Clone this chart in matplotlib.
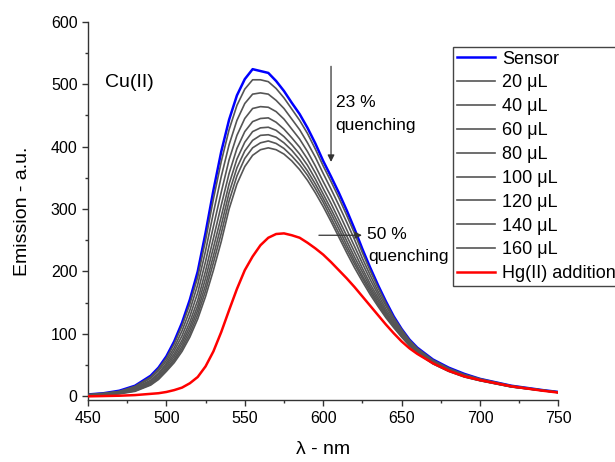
import matplotlib
matplotlib.use("Agg")
import matplotlib.pyplot as plt
from matplotlib.ticker import MultipleLocator

plt.rcParams['font.family'] = ['Liberation Sans', 'DejaVu Sans']

# wavelength grid (nm)
wl = [450, 460, 470, 480, 490, 495, 500, 505, 510, 515, 520, 525, 530, 535, 540,
      545, 550, 555, 560, 565, 570, 575, 580, 585, 590, 595, 600, 605, 610, 615,
      620, 625, 630, 635, 640, 645, 650, 655, 660, 670, 680, 690, 700, 720, 740, 750]

sensor = [3, 5, 9, 17, 33, 46, 64, 88, 118, 155, 200, 262, 330, 392, 443,
          482, 508, 524, 521, 518, 505, 489, 470, 452, 430, 405, 377, 352, 326, 298,
          268, 236, 206, 178, 152, 128, 108, 91, 78, 59, 46, 36, 28, 17, 10, 7]

cu_20 = [3, 5, 8, 16, 31, 44, 61, 84, 113, 148, 191, 250, 316, 376, 427,
         466, 492, 507, 507, 504, 493, 478, 460, 442, 421, 396, 369, 344, 318, 290,
         261, 230, 201, 174, 149, 126, 107, 90, 77, 58, 45, 35, 28, 17, 10, 7]
cu_40 = [2.4, 4.2, 7.6, 14.5, 29, 41, 57, 78, 105, 138, 179, 233, 294, 352, 403,
         442, 469, 484, 486, 484, 474, 461, 444, 427, 406, 383, 357, 332, 306, 279,
         251, 221, 194, 168, 145, 123, 104, 88, 75.5, 57, 44, 34.6, 27.2, 16.4, 9.7, 6.7]
cu_60 = [2.1, 3.7, 6.8, 13, 26, 37, 53, 73, 97, 128, 166, 216, 272, 327, 379,
         418, 445, 461, 464, 463, 456, 444, 428, 412, 392, 369, 344, 320, 294, 267,
         240, 213, 187, 163, 140, 120, 102, 86.5, 74, 56, 43, 33.8, 26.7, 16.1, 9.6, 6.6]
cu_80 = [1.8, 3.2, 6, 11.6, 24, 35, 50, 68, 90, 119, 154, 201, 253, 306, 357,
         397, 424, 440, 445, 446, 439, 428, 414, 399, 380, 358, 333, 309, 283, 257,
         231, 205, 180, 158, 136, 117, 100, 85, 72.6, 54.8, 42.4, 33, 26.2, 15.8, 9.4, 6.4]
cu_100 = [1.6, 2.8, 5.4, 10.5, 22, 32, 47, 64, 85, 112, 145, 189, 238, 288, 340,
          380, 407, 424, 430, 431, 426, 416, 403, 388, 370, 348, 324, 300, 275, 249,
          223, 199, 175, 154, 133, 115, 99, 84, 71.5, 54, 41.7, 32.4, 25.8, 15.6, 9.3, 6.3]
cu_120 = [1.4, 2.5, 4.9, 9.6, 21, 30, 44, 60, 80, 106, 138, 178, 225, 274, 326,
          366, 393, 410, 418, 419, 415, 406, 394, 379, 361, 340, 317, 293, 268, 242,
          217, 193, 171, 150, 131, 113, 97, 83, 70.6, 53.3, 41.1, 31.9, 25.5, 15.4, 9.2, 6.2]
cu_140 = [1.2, 2.3, 4.5, 8.8, 19, 29, 42, 57, 76, 100, 131, 169, 214, 261, 313,
          353, 381, 398, 406, 409, 405, 397, 385, 371, 354, 333, 311, 286, 261, 236,
          212, 189, 167, 147, 128, 112, 96, 82, 69.8, 52.6, 40.5, 31.5, 25.3, 15.2, 9.1, 6.1]
cu_160 = [1, 2, 4, 8, 18, 27, 40, 54, 72, 95, 124, 160, 202, 248, 300,
          340, 368, 386, 395, 398, 395, 388, 377, 363, 346, 326, 304, 280, 255, 230,
          206, 184, 163, 144, 126, 110, 95, 81, 69, 52, 40, 31, 25, 15, 9, 6]

hg = [0, 0.5, 1, 2, 4, 5, 7, 10, 14, 21, 31, 48, 72, 103, 138,
      172, 202, 224, 242, 254, 260, 261, 258, 254, 246, 237, 227, 215, 202, 189,
      175, 160, 145, 130, 115, 101, 88, 77, 68, 53, 41, 32, 26, 16, 9, 6]

gray_series = [cu_20, cu_40, cu_60, cu_80, cu_100, cu_120, cu_140, cu_160]
gray_labels = ['20 \u03bcL', '40 \u03bcL', '60 \u03bcL', '80 \u03bcL',
               '100 \u03bcL', '120 \u03bcL', '140 \u03bcL', '160 \u03bcL']

fig = plt.figure(figsize=(6.15, 4.62), dpi=100)
ax = fig.add_axes([0.143, 0.134, 0.765, 0.819])

ax.plot(wl, sensor, color='#0000ff', lw=1.8, label='Sensor', zorder=2)
for ys, lab in zip(gray_series, gray_labels):
    ax.plot(wl, ys, color='#555555', lw=1.2, label=lab, zorder=3)
ax.plot(wl, hg, color='#ff0000', lw=1.8, label='Hg(II) addition', zorder=4)

ax.set_xlim(450, 750)
ax.set_ylim(-6, 600)
ax.xaxis.set_major_locator(MultipleLocator(50))
ax.xaxis.set_minor_locator(MultipleLocator(25))
ax.yaxis.set_major_locator(MultipleLocator(100))
ax.yaxis.set_minor_locator(MultipleLocator(50))
ax.tick_params(which='major', direction='out', length=4, width=1, labelsize=11.5, color='#333333')
ax.tick_params(which='minor', direction='out', length=2.5, width=1, color='#333333')
for s in ['top', 'right']:
    ax.spines[s].set_visible(False)
for s in ['left', 'bottom']:
    ax.spines[s].set_color('#333333')
    ax.spines[s].set_linewidth(1)

ax.set_xlabel('\u03bb - nm', fontsize=14, labelpad=11)
ax.set_ylabel('Emission - a.u.', fontsize=14, labelpad=14)

ax.text(461, 503, 'Cu(II)', fontsize=14, va='center', ha='left')

# quenching arrows
ax.annotate('', xy=(605, 371), xytext=(605, 533),
            arrowprops=dict(arrowstyle='-|>', color='#333333', lw=0.9, mutation_scale=10))
ax.text(608, 470, '23 %', fontsize=12.5, va='center', ha='left')
ax.text(608, 434, 'quenching', fontsize=12.5, va='center', ha='left')

ax.annotate('', xy=(626.5, 258), xytext=(595.5, 258),
            arrowprops=dict(arrowstyle='-|>', color='#333333', lw=0.9, mutation_scale=10))
ax.text(628, 259, '50 %', fontsize=12.5, va='center', ha='left')
ax.text(629, 224, 'quenching', fontsize=12.5, va='center', ha='left')

# legend box runs past the right edge of the figure, as in the original
leg = fig.legend(loc='upper left', bbox_to_anchor=(453 / 615, 1 - 47 / 462, 0.35, 0),
                 mode='expand', fontsize=13, frameon=True, fancybox=False, framealpha=1,
                 edgecolor='#444444', borderpad=0.2, labelspacing=0.38,
                 handlelength=2.15, handletextpad=0.35, borderaxespad=0)
leg.get_frame().set_linewidth(1)

fig.savefig('out.png', dpi=100)
